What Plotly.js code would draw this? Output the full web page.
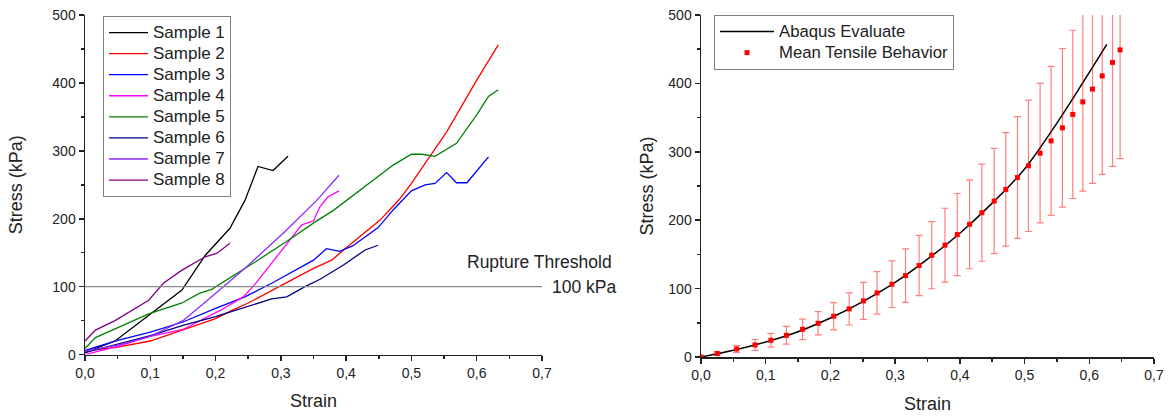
<!DOCTYPE html>
<html>
<head>
<meta charset="utf-8">
<script src="https://cdn.plot.ly/plotly-3.0.1.min.js"></script>
<style>html,body{margin:0;padding:0;background:#fff;}#chart{width:1170px;height:416px;}</style>
</head>
<body>
<div id="chart"></div>
<script>
// ---- Left panel: individual samples ----
const sampleNames = ["Sample 1","Sample 2","Sample 3","Sample 4","Sample 5","Sample 6","Sample 7","Sample 8"];
const s1x = [0, 0.046, 0.1485, 0.184, 0.222, 0.245, 0.265, 0.288, 0.311];
const s1y = [3, 20, 95, 146, 186, 227, 277, 271, 292];
const s2x = [0, 0.05, 0.1, 0.15, 0.2, 0.225, 0.25, 0.311, 0.35, 0.378, 0.396, 0.452, 0.482, 0.5, 0.554, 0.6, 0.633];
const s2y = [5, 11, 20, 36, 53, 65, 76, 107, 127, 139, 154, 198, 229, 252, 328, 404, 456];
const s3x = [0, 0.05, 0.1, 0.15, 0.2, 0.245, 0.286, 0.35, 0.37, 0.39, 0.41, 0.449, 0.472, 0.5, 0.521, 0.536, 0.554, 0.569, 0.585, 0.618];
const s3y = [6, 21, 33, 48, 68, 85, 105, 139, 156, 152, 160, 187, 213, 241, 250, 252, 268, 253, 253, 291];
const s4x = [0, 0.05, 0.1, 0.15, 0.207, 0.2425, 0.26, 0.332, 0.35, 0.36, 0.372, 0.389];
const s4y = [0, 12, 27, 37, 65, 85, 103, 191, 197, 218, 232, 241];
const s5x = [0, 0.016, 0.046, 0.0975, 0.1485, 0.175, 0.194, 0.204, 0.26, 0.311, 0.352, 0.38, 0.411, 0.441, 0.472, 0.5, 0.516, 0.536, 0.569, 0.6, 0.618, 0.633];
const s5y = [9, 25, 38, 60, 76, 90, 96, 102, 136, 168, 195, 212, 235, 257, 279, 295, 295, 292, 311, 353, 380, 390];
const s6x = [0, 0.05, 0.1, 0.15, 0.2, 0.23, 0.286, 0.309, 0.337, 0.36, 0.396, 0.429, 0.449];
const s6y = [3, 15, 28, 43, 56, 65, 82, 85, 100, 111, 132, 154, 161];
const s7x = [0, 0.05, 0.1, 0.15, 0.184, 0.245, 0.306, 0.355, 0.389];
const s7y = [5, 14, 27, 50, 77, 127, 181, 227, 264];
const s8x = [0, 0.016, 0.046, 0.0975, 0.12, 0.148, 0.184, 0.2017, 0.222];
const s8y = [20, 36, 50, 80, 105, 124, 144, 149, 164];
const sampleColors = ["#000000","#ff0000","#0000ff","#ff00ff","#008000","#000080","#8b2cff","#800080"];

// ---- Right panel: mean behaviour and model ----
const meanStrain = [0, 0.025, 0.055, 0.0835, 0.108, 0.132, 0.157, 0.181, 0.205, 0.229, 0.251, 0.272, 0.295, 0.316, 0.337, 0.3565, 0.377, 0.396, 0.415, 0.434, 0.453, 0.471, 0.489, 0.506, 0.524, 0.541, 0.5585, 0.5745, 0.59, 0.605, 0.62, 0.636, 0.6476];
const meanStress = [0, 5, 11.7, 17.6, 24.4, 31.7, 40.5, 49.3, 59.6, 70.3, 82, 93.7, 106.4, 119, 133.7, 148.8, 163.5, 179, 194, 211, 228, 245, 262.4, 279.5, 298, 316, 335, 354.7, 373, 391.7, 411, 430.7, 449];
const meanErr = [0, 2.7, 5, 8, 10, 13, 15, 17, 20, 23.5, 27, 31, 34, 39, 44, 49, 54, 60, 65, 71, 77, 83, 89, 96, 102, 109, 116, 123, 130.5, 138, 144, 152, 159];
const abaqusStrain = [0, 0.05, 0.1, 0.15, 0.2, 0.25, 0.3, 0.35, 0.4, 0.45, 0.5, 0.55, 0.6, 0.627];
const abaqusStress = [0, 10, 22, 37, 57, 81, 109, 143, 181, 225, 275, 342, 416, 457];

const xTicks = [0, 0.1, 0.2, 0.3, 0.4, 0.5, 0.6, 0.7];
const yTicks = [0, 100, 200, 300, 400, 500];
const threshold = 100;

const FONT = "'Liberation Sans', Arial, sans-serif";
const sx = [s1x,s2x,s3x,s4x,s5x,s6x,s7x,s8x];
const sy = [s1y,s2y,s3y,s4y,s5y,s6y,s7y,s8y];
// legend labels drawn a bit larger than the row pitch font
const big = (t, px) => '<span style="font-size:' + px + 'px">' + t + '</span>';

const traces = [];
for (let i = 0; i < 8; i++) {
  traces.push({
    type: 'scatter', mode: 'lines', x: sx[i], y: sy[i], name: big(sampleNames[i], 17),
    line: {color: sampleColors[i], width: 1.3}, xaxis: 'x', yaxis: 'y', legend: 'legend'
  });
}
traces.push({
  type: 'scatter', mode: 'lines', x: abaqusStrain, y: abaqusStress, name: big('Abaqus Evaluate', 16.7),
  line: {color: '#000000', width: 1.5, shape: 'spline'}, xaxis: 'x2', yaxis: 'y2', legend: 'legend2'
});
traces.push({
  type: 'scatter', mode: 'markers', x: meanStrain, y: meanStress, name: big('Mean Tensile Behavior', 16.7),
  marker: {color: '#ff0000', symbol: 'square', size: 5},
  error_y: {type: 'data', array: meanErr, visible: true, color: 'rgba(255,0,0,0.5)', thickness: 1.2, width: 3.5},
  xaxis: 'x2', yaxis: 'y2', legend: 'legend2'
});

const H = 416, T = 15, B = 59.3;
const plotH = H - T - B;

function xAxis(domain, anchor, standoff) {
  return {
    domain: domain, anchor: anchor, range: [0, 0.7], tickvals: xTicks, tickformat: '.1f',
    ticks: 'outside', ticklen: 5, tickwidth: 1.5, tickcolor: '#222',
    showline: true, linewidth: 1.5, linecolor: '#222', showgrid: false, zeroline: false,
    minor: {tickvals: [0.05,0.15,0.25,0.35,0.45,0.55,0.65], ticks: 'outside', ticklen: 3, tickwidth: 1.5, tickcolor: '#222', showgrid: false},
    tickfont: {family: FONT, size: 14, color: '#222'},
    title: {text: 'Strain', font: {family: FONT, size: 18, color: '#222'}, standoff: standoff}
  };
}
function yAxis(domain, anchor, standoff) {
  return {
    domain: domain, anchor: anchor, range: [0, 500], tickvals: yTicks,
    ticks: 'outside', ticklen: 5, tickwidth: 1.5, tickcolor: '#222',
    showline: true, linewidth: 1.5, linecolor: '#222', showgrid: false, zeroline: false,
    minor: {tickvals: [50,150,250,350,450], ticks: 'outside', ticklen: 3, tickwidth: 1.5, tickcolor: '#222', showgrid: false},
    tickfont: {family: FONT, size: 14, color: '#222'},
    title: {text: 'Stress (kPa)', font: {family: FONT, size: 18, color: '#222'}, standoff: standoff}
  };
}

const layout = {
  width: 1170, height: 416,
  margin: {l: 0, r: 0, t: T, b: B},
  paper_bgcolor: '#fff', plot_bgcolor: '#fff',
  separators: ',.',
  font: {family: FONT, color: '#222'},
  showlegend: true,
  xaxis: xAxis([85/1170, 542/1170], 'y', 14),
  yaxis: yAxis([(H - B - 354.3) / plotH, 1], 'x', 25),
  xaxis2: xAxis([701/1170, 1154/1170], 'y2', 15),
  yaxis2: yAxis([0, 1], 'x2', 10),
  legend: {x: 103/1170, y: 0.997, xanchor: 'left', yanchor: 'top', bgcolor: '#fff', itemwidth: 39,
           bordercolor: '#808080', borderwidth: 1, font: {family: FONT, size: 13.9, color: '#222'}},
  legend2: {x: 714/1170, y: 1, xanchor: 'left', yanchor: 'top', bgcolor: '#fff', itemwidth: 54,
            bordercolor: '#808080', borderwidth: 1, font: {family: FONT, size: 13.9, color: '#222'}},
  shapes: [{type: 'line', xref: 'x', yref: 'y', x0: 0, x1: 0.7, y0: threshold, y1: threshold,
            line: {color: '#8a8a8a', width: 1.2}}],
  annotations: [
    {xref: 'paper', yref: 'paper', x: 614/1170, y: (H - B - 262) / plotH, xanchor: 'right', yanchor: 'middle',
     text: 'Rupture Threshold', showarrow: false, font: {family: FONT, size: 17.5, color: '#222'}},
    {xref: 'paper', yref: 'paper', x: 550/1170, y: (H - B - 287) / plotH, xanchor: 'left', yanchor: 'middle',
     text: threshold + ' kPa', showarrow: false, font: {family: FONT, size: 17.5, color: '#222'}}
  ]
};

Plotly.newPlot('chart', traces, layout, {displayModeBar: false, staticPlot: true});
</script>
</body>
</html>
